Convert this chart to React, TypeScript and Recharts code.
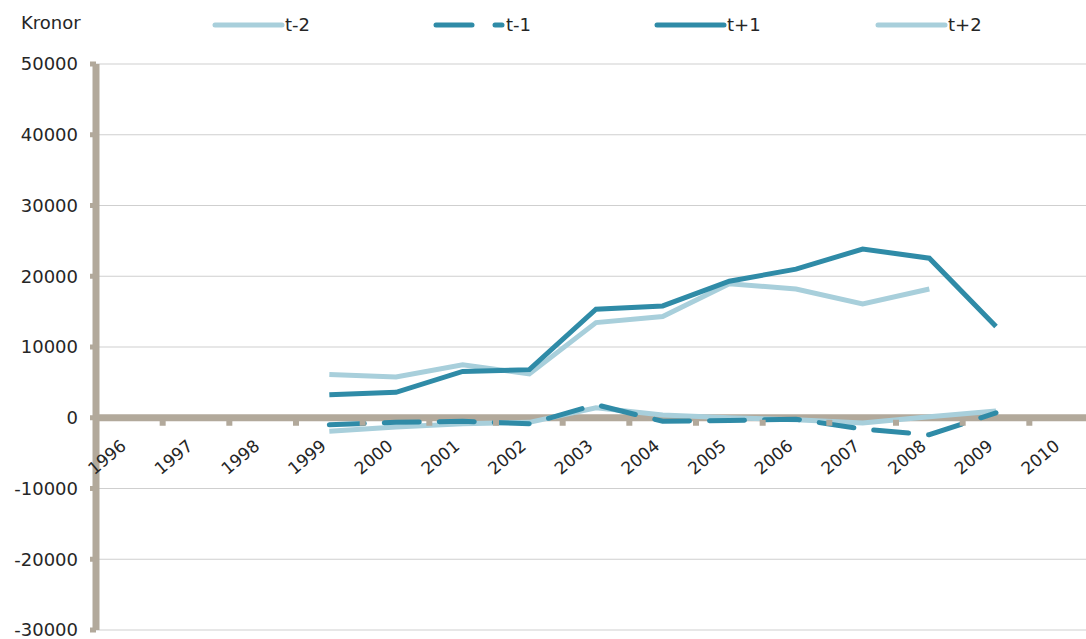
import {
  LineChart,
  Line,
  XAxis,
  YAxis,
  CartesianGrid,
  ReferenceLine,
  ReferenceDot,
} from "recharts";

const years = [
  "1996", "1997", "1998", "1999", "2000", "2001", "2002", "2003",
  "2004", "2005", "2006", "2007", "2008", "2009", "2010",
];
// t-2 and t+2 are the light lines, t-1 (dashed) and t+1 the dark ones
const tMinus2 = [null, null, null, -1900, -1300, -850, -650, 1400, 400, 0, -300, -750, 150, 950, null];
const tMinus1 = [null, null, null, -1000, -650, -500, -850, 1850, -500, -400, -200, -1600, -2400, 700, null];
const tPlus1 = [null, null, null, 3250, 3600, 6550, 6800, 15350, 15800, 19300, 21000, 23850, 22550, 12900, null];
const tPlus2 = [null, null, null, 6100, 5750, 7500, 6200, 13450, 14300, 18950, 18200, 16100, 18200, null, null];
const yTicks = [-30000, -20000, -10000, 0, 10000, 20000, 30000, 40000, 50000];

const DARK = "#2f8ba7";
const LIGHT = "#a8cfdb";
const TAUPE = "#b2a99b";
const FONT = "'DejaVu Sans', sans-serif";
const TEXT = "#262626";

const CHART_W = 1100;
const CHART_H = 639;
const AXIS_W = 96;
const MARGIN_R = 4;
const HALF_BAND = (CHART_W - AXIS_W - MARGIN_R) / years.length / 2;

const data = years.map((y, i) => ({
  year: y,
  tMinus2: tMinus2[i],
  tMinus1: tMinus1[i],
  tPlus1: tPlus1[i],
  tPlus2: tPlus2[i],
}));

const legendItems = [
  { name: "t-2", color: LIGHT, dashed: false },
  { name: "t-1", color: DARK, dashed: true },
  { name: "t+1", color: DARK, dashed: false },
  { name: "t+2", color: LIGHT, dashed: false },
];

// year label + tick mark between categories, placed on the zero line
const YearLabel = (props: any) => {
  const { cx, cy, year } = props;
  return (
    <g>
      <rect x={cx + HALF_BAND - 3} y={cy + 2} width={6} height={6} fill={TAUPE} />
      <text
        transform={`translate(${cx - 2},${cy + 30}) rotate(-40)`}
        textAnchor="end"
        fontSize={17}
        fontFamily={FONT}
        fill={TEXT}
      >
        {year}
      </text>
    </g>
  );
};

export default function App() {
  return (
    <div
      style={{
        position: "absolute",
        left: 0,
        top: 0,
        width: 1086,
        height: 639,
        overflow: "hidden",
        background: "#fff",
        fontFamily: FONT,
      }}
    >
      <div style={{ position: "absolute", left: 21, top: 12, fontSize: 18, color: TEXT }}>
        Kronor
      </div>
      {legendItems.map((it, i) => (
        <div
          key={it.name}
          style={{
            position: "absolute",
            left: 211 + i * 221,
            top: 12,
            display: "flex",
            alignItems: "center",
            fontSize: 18,
            color: TEXT,
          }}
        >
          <svg width={74} height={24}>
            <line
              x1={4}
              y1={13}
              x2={it.dashed ? 60 : 71}
              y2={13}
              stroke={it.color}
              strokeWidth={5}
              strokeLinecap="round"
              strokeDasharray={it.dashed ? "36 23" : undefined}
            />
            {it.dashed && (
              <line x1={63} y1={13} x2={70} y2={13} stroke={it.color} strokeWidth={5} strokeLinecap="round" />
            )}
          </svg>
          <span>{it.name}</span>
        </div>
      ))}
      <LineChart
        width={CHART_W}
        height={CHART_H}
        data={data}
        margin={{ top: 64, right: MARGIN_R, bottom: 9, left: 0 }}
      >
        <CartesianGrid vertical={false} stroke="#cfcfcf" strokeWidth={1} />
        <XAxis dataKey="year" scale="band" hide />
        <YAxis
          width={AXIS_W}
          domain={[-30000, 50000]}
          ticks={yTicks}
          interval={0}
          axisLine={{ stroke: TAUPE, strokeWidth: 7 }}
          tickLine={{ stroke: TAUPE, strokeWidth: 5 }}
          tickSize={6}
          tickMargin={12}
          tick={{ fontSize: 18, fill: TEXT, fontFamily: FONT }}
        />
        <ReferenceLine y={0} stroke={TAUPE} strokeWidth={7} />
        {years.map((y) => (
          <ReferenceDot
            key={y}
            x={y}
            y={0}
            ifOverflow="visible"
            shape={(p: any) => <YearLabel {...p} year={y} />}
          />
        ))}
        <Line
          dataKey="tMinus2"
          stroke={LIGHT}
          strokeWidth={5}
          dot={false}
          isAnimationActive={false}
        />
        <Line
          dataKey="tPlus2"
          stroke={LIGHT}
          strokeWidth={5}
          dot={false}
          isAnimationActive={false}
        />
        <Line
          dataKey="tMinus1"
          stroke={DARK}
          strokeWidth={5}
          strokeDasharray="35 20"
          strokeLinecap="round"
          dot={false}
          isAnimationActive={false}
        />
        <Line
          dataKey="tPlus1"
          stroke={DARK}
          strokeWidth={5}
          dot={false}
          isAnimationActive={false}
        />
      </LineChart>
    </div>
  );
}
